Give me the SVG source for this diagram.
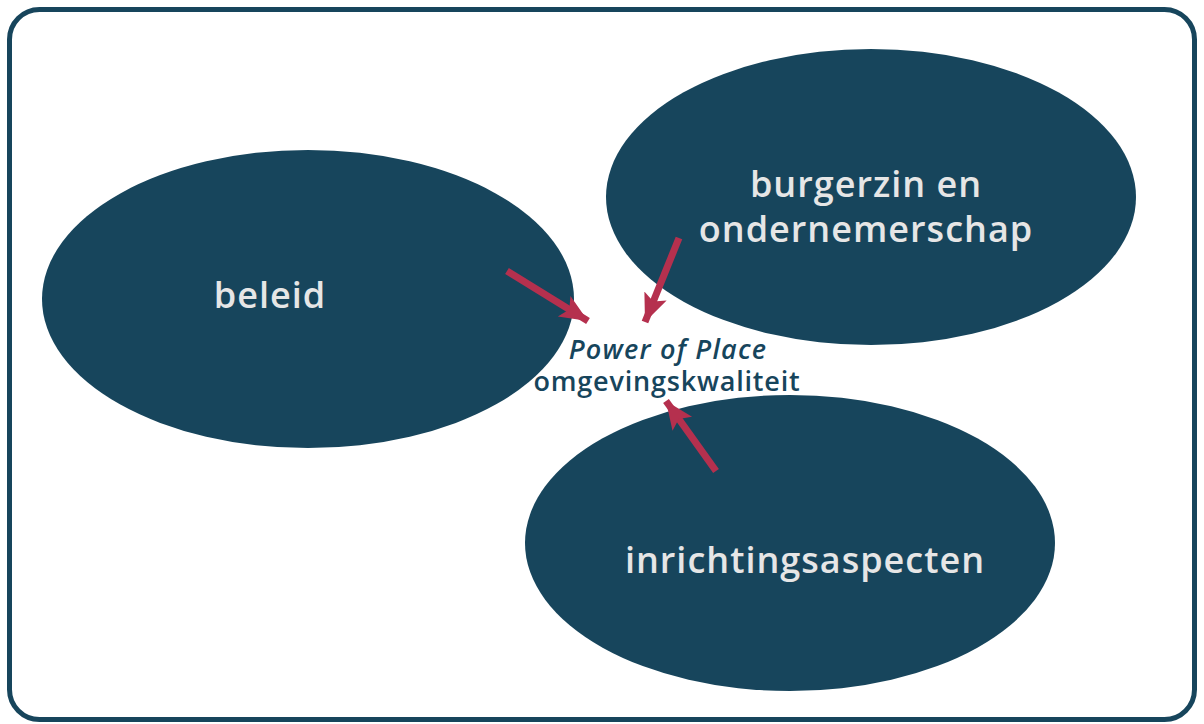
<svg xmlns="http://www.w3.org/2000/svg" width="1204" height="724" viewBox="0 0 1204 724">
<style>
.node{fill:#17455c}
.lbl{font-family:"Open Sans","DejaVu Sans",sans-serif;font-size:36px;font-weight:600;fill:#e6e6e6;text-anchor:middle;letter-spacing:1px}
.ctr{font-family:"Open Sans","DejaVu Sans",sans-serif;fill:#17455c;text-anchor:middle;font-weight:600}
.arr{stroke:#b5304e;stroke-width:7;fill:none;marker-end:url(#ah)}
</style>
<defs>
<marker id="ah" markerUnits="userSpaceOnUse" markerWidth="30" markerHeight="30" viewBox="0 0 30 30" refX="28" refY="15" orient="auto">
<path d="M0,3 L28,15 L0,27 L6,15 Z" fill="#b5304e"/>
</marker>
</defs>
<rect x="9.5" y="9.5" width="1185" height="710" rx="30" fill="#ffffff" stroke="#17455c" stroke-width="5"/>
<g id="beleid">
<ellipse class="node" cx="308" cy="299" rx="266" ry="149"/>
<text class="lbl" x="270" y="308">beleid</text>
</g>
<g id="burgerzin">
<ellipse class="node" cx="871" cy="197" rx="265" ry="148"/>
<text class="lbl" x="866" y="197">burgerzin en</text>
<text class="lbl" x="866" y="242">ondernemerschap</text>
</g>
<g id="inrichtingsaspecten">
<ellipse class="node" cx="790" cy="543" rx="265" ry="148"/>
<text class="lbl" x="805" y="573">inrichtingsaspecten</text>
</g>
<g id="center">
<text class="ctr" x="668" y="359" font-size="27" font-style="italic" letter-spacing="1.2">Power of Place</text>
<text class="ctr" x="667" y="391" font-size="27" letter-spacing="0.8">omgevingskwaliteit</text>
</g>
<g id="connectors">
<line class="arr" x1="507" y1="271" x2="588" y2="321"/>
<line class="arr" x1="679" y1="238" x2="645" y2="322"/>
<line class="arr" x1="716" y1="471" x2="666" y2="401"/>
</g>
</svg>
